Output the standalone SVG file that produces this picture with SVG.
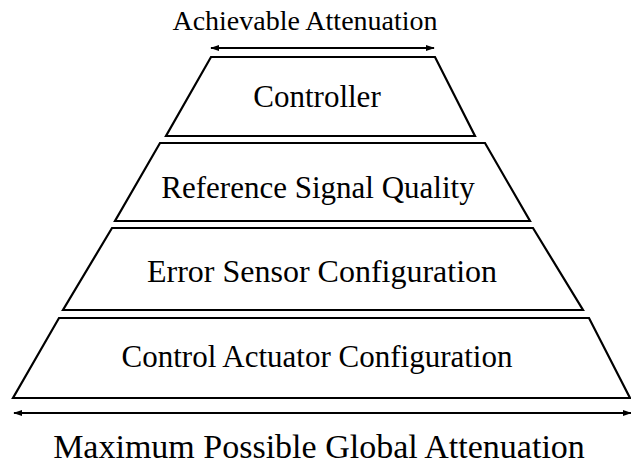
<svg xmlns="http://www.w3.org/2000/svg" width="631" height="465" viewBox="0 0 631 465">
<style>
.layer{fill:#fff;stroke:#000;stroke-width:2.2;stroke-linejoin:miter}
.lbl{font-family:'Liberation Serif','Times New Roman',Tinos,'DejaVu Serif','Noto Serif',serif;font-size:31px;fill:#000;text-anchor:middle}
.conn{stroke:#000;stroke-width:2.2;fill:none}
</style>
<defs>
<marker id="ah" viewBox="0 0 10 10" refX="9" refY="5" markerWidth="9" markerHeight="9" orient="auto-start-reverse" markerUnits="userSpaceOnUse">
<path d="M0,1.5 L10,5 L0,8.5 Z" fill="#000"/>
</marker>
</defs>
<rect width="631" height="465" fill="#fff"/>
<g id="layer-controller">
<polygon class="layer" points="211,57 435,57 475,136 166,136"/>
<text class="lbl" x="317" y="107">Controller</text>
</g>
<g id="layer-reference">
<polygon class="layer" points="160,143 485,143 530,221 115,221"/>
<text class="lbl" x="318" y="198">Reference Signal Quality</text>
</g>
<g id="layer-error">
<polygon class="layer" points="112,228 533,228 583,310 63,310"/>
<text class="lbl" x="322" y="282" style="font-size:32px">Error Sensor Configuration</text>
</g>
<g id="layer-actuator">
<polygon class="layer" points="59,318 589,318 630,398 13,398"/>
<text class="lbl" x="317" y="367">Control Actuator Configuration</text>
</g>
<g id="connectors">
<line class="conn" x1="211" y1="48" x2="434" y2="48" marker-start="url(#ah)" marker-end="url(#ah)"/>
<line class="conn" x1="14" y1="413" x2="631" y2="413" marker-start="url(#ah)" marker-end="url(#ah)"/>
</g>
<text class="lbl" x="305" y="30" style="font-size:28px">Achievable Attenuation</text>
<text class="lbl" x="319" y="458" style="font-size:34px">Maximum Possible Global Attenuation</text>
</svg>
